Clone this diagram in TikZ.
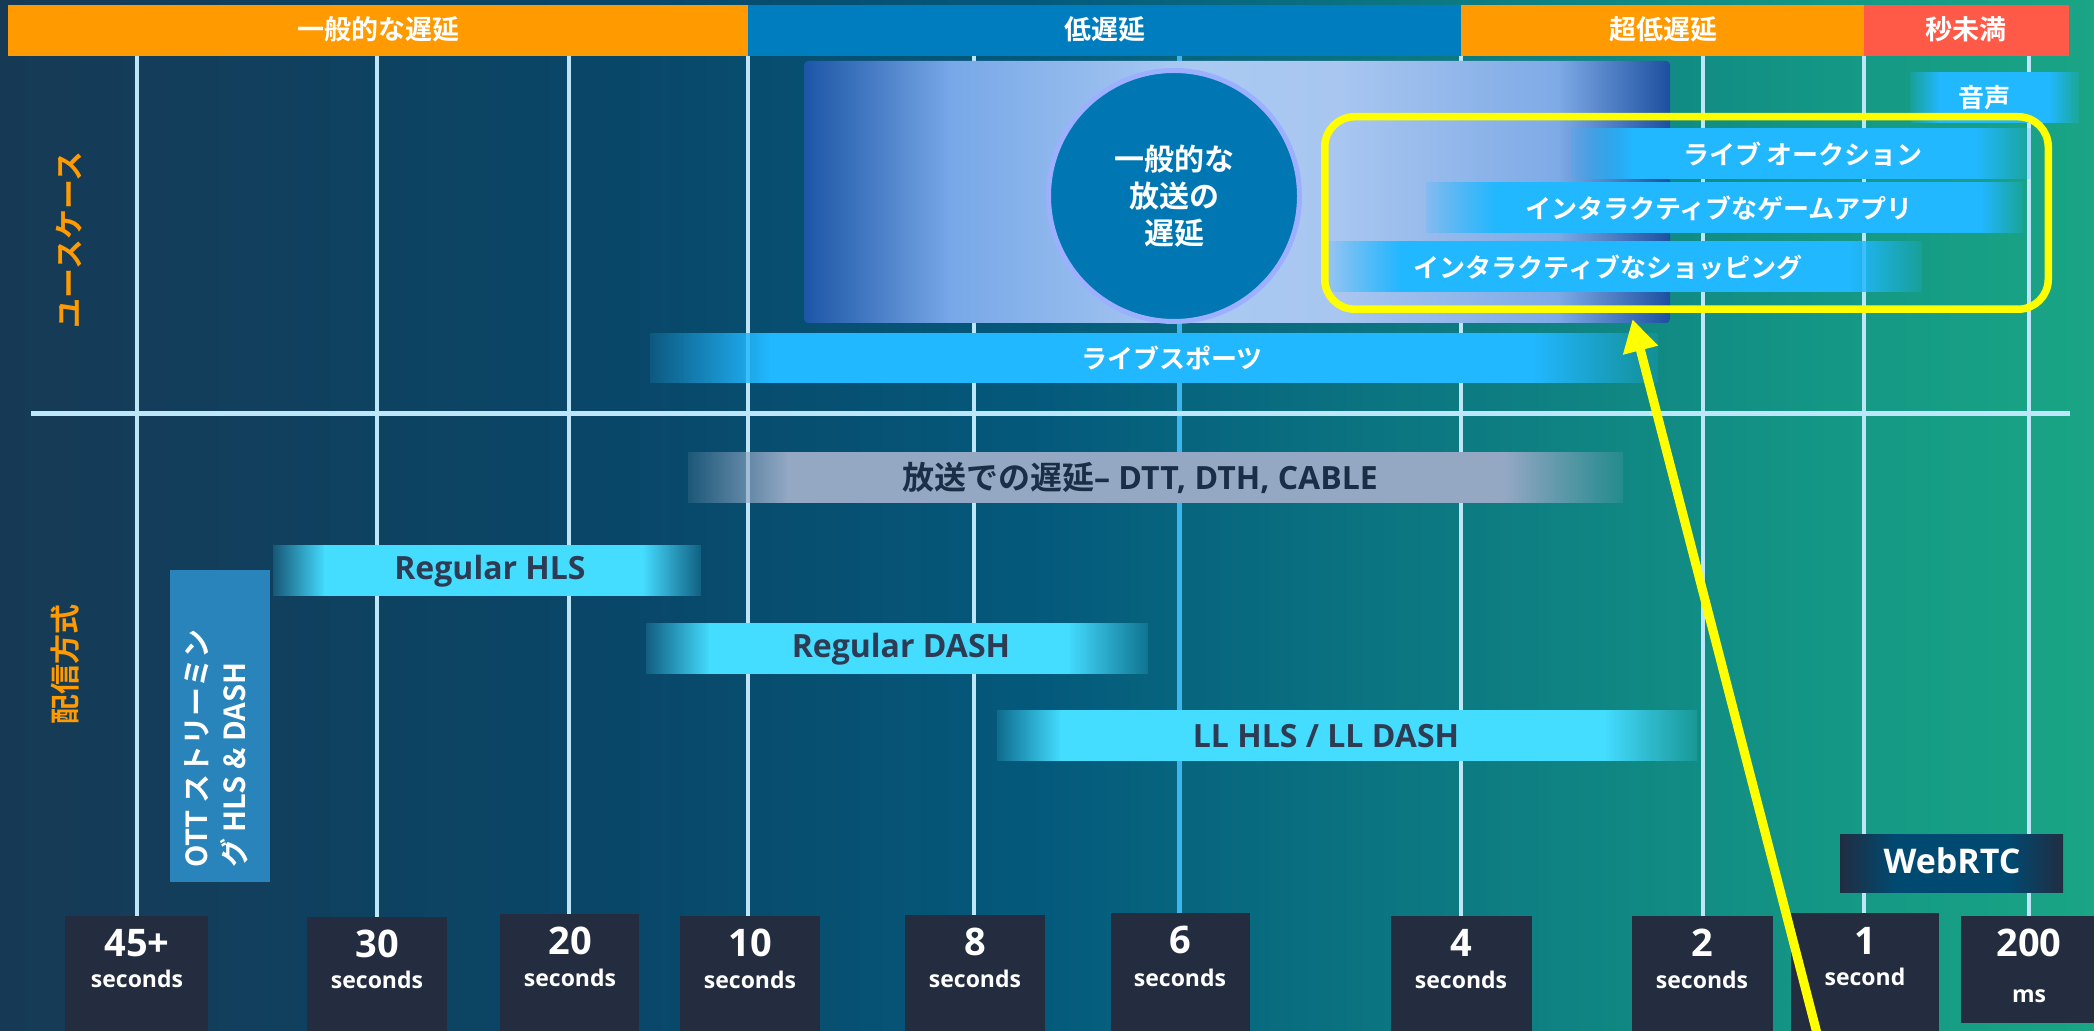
\documentclass[tikz,border=0pt]{standalone}
\usepackage{fontspec}
\setmainfont{Open Sans}
\newfontfamily\jp{Noto Sans CJK JP}[BoldFont={Noto Sans CJK JP Bold}]
\usetikzlibrary{positioning, arrows.meta, fadings, shapes}

\definecolor{bgA}{HTML}{163A55}
\definecolor{bgB}{HTML}{094769}
\definecolor{bgC}{HTML}{045A7C}
\definecolor{bgD}{HTML}{0D7B82}
\definecolor{bgE}{HTML}{149885}
\definecolor{bgF}{HTML}{1AA585}
\definecolor{bandorange}{HTML}{FF9A00}
\definecolor{bandblue}{HTML}{007DBE}
\definecolor{bandred}{HTML}{FF5A47}
\definecolor{gridcol}{HTML}{BDE6F8}
\definecolor{gridblue}{HTML}{3DB6F0}
\definecolor{circfill}{HTML}{0076B3}
\definecolor{circring}{HTML}{9DB0FF}
\definecolor{usecase}{HTML}{22B8FF}
\definecolor{bcastbar}{HTML}{94A8C4}
\definecolor{cyanbar}{HTML}{44DCFF}
\definecolor{methodtext}{HTML}{2E3B52}
\definecolor{bcasttext}{HTML}{1A2E47}
\definecolor{ottcol}{HTML}{2884BA}
\definecolor{tickcol}{HTML}{232D3F}
\definecolor{hilite}{HTML}{FFFF00}
\definecolor{bcA}{HTML}{1C56A6}
\definecolor{bcB}{HTML}{78A8E8}
\definecolor{bcC}{HTML}{AACAF2}
\definecolor{bcD}{HTML}{A8C6F0}
\definecolor{bcE}{HTML}{7EAAE6}
\definecolor{bcF}{HTML}{1C4F9F}
\definecolor{rtcA}{HTML}{212D42}
\definecolor{rtcB}{HTML}{004A72}

\pgfdeclarehorizontalshading{bgshade}{100bp}{color(0bp)=(bgA); color(25bp)=(bgA); color(40bp)=(bgB); color(50bp)=(bgC); color(60bp)=(bgD); color(69bp)=(bgE); color(75bp)=(bgF); color(100bp)=(bgF)}
\pgfdeclarehorizontalshading{bcast}{100bp}{color(0bp)=(bcA); color(25bp)=(bcA); color(33.5bp)=(bcB); color(47.5bp)=(bcC); color(56bp)=(bcD); color(68.5bp)=(bcE); color(75bp)=(bcF); color(100bp)=(bcF)}
\pgfdeclarehorizontalshading{rtcshade}{100bp}{color(0bp)=(rtcA); color(25bp)=(rtcA); color(37.5bp)=(rtcB); color(62.5bp)=(rtcB); color(75bp)=(rtcA); color(100bp)=(rtcA)}

\tikzfading[name=fadein, left color=transparent!85, right color=transparent!0]
\tikzfading[name=fadeout, left color=transparent!0, right color=transparent!85]

% bar with soft ends: colour, x1, x2, y1, y2, left fade, right fade
\newcommand\fadebar[7]{%
  \fill[#1] ({#2+#6-1},#4) rectangle ({#3-#7+1},#5);
  \fill[#1, path fading=fadein] (#2,#4) rectangle ({#2+#6},#5);
  \fill[#1, path fading=fadeout] ({#3-#7},#4) rectangle (#3,#5);
}

\begin{document}
\begin{tikzpicture}[x=0.5pt, y=-0.5pt,
  band/.style={text=white, inner sep=0, font=\jp\bfseries\fontsize{13.5}{16}\selectfont},
  grid/.style={draw=gridcol, line width=1.75pt},
  ucase/.style={text=white, inner sep=0, font=\jp\bfseries\fontsize{13}{15}\selectfont},
  method/.style={text=methodtext, inner sep=0, font=\bfseries\fontsize{16}{19}\selectfont},
  sidelabel/.style={text=bandorange, rotate=90, inner sep=0, font=\jp\bfseries\fontsize{15}{18}\selectfont},
  tickbox/.style={fill=tickcol},
  ticknum/.style={text=white, inner sep=0, font=\bfseries\fontsize{19}{22}\selectfont},
  tickunit/.style={text=white, inner sep=0, font=\bfseries\fontsize{11.5}{14}\selectfont}
]

\useasboundingbox (0,0) rectangle (2094,1031);
\clip (0,0) rectangle (2094,1031);

% Background
\shade[shading=bgshade] (0,0) rectangle (2094,1031);

% Latency bands
\fill[bandorange] (8,5) rectangle (748,56);
\fill[bandblue] (748,5) rectangle (1461,56);
\fill[bandorange] (1461,5) rectangle (1864,56);
\fill[bandred] (1864,5) rectangle (2069,56);
\node[band] (general) at (378,29) {一般的な遅延};
\node[band] (low) at (1105,29) {低遅延};
\node[band] (ultralow) at (1663,29) {超低遅延};
\node[band] (subsec) at (1966,29) {秒未満};

% Grid
\draw[grid] (137,56) -- (137,920);
\draw[grid] (377,56) -- (377,920);
\draw[grid] (569,56) -- (569,920);
\draw[grid] (748,56) -- (748,920);
\draw[grid] (974,56) -- (974,920);
\draw[grid, draw=gridblue, line width=2.5pt] (1179,56) -- (1179,920);
\draw[grid] (1461,56) -- (1461,920);
\draw[grid] (1703,56) -- (1703,920);
\draw[grid] (1864,56) -- (1864,920);
\draw[grid] (2029,56) -- (2029,920);
\draw[grid, line width=2.5pt] (31,414) -- (2070,414);

% Side labels
\node[sidelabel] (usecases) at (69,240) {ユースケース};
\node[sidelabel] (methods) at (65,665) {配信方式};

% Typical broadcast latency
\shade[shading=bcast, rounded corners=2pt] (804,61) rectangle (1670,323);
\node[circle, fill=circfill, draw=circring, line width=2.5pt, minimum size=125.5pt, inner sep=0,
  align=center, text=white, font=\jp\bfseries\fontsize{15}{18.5}\selectfont] (typical) at (1174,196) {一般的な\\放送の\\遅延};

% Use cases
\fadebar{usecase}{1910}{2079}{72}{123}{30}{30}
\node[ucase] (voice) at (1984,98) {音声};
\fadebar{usecase}{1571}{2031}{128}{179}{62}{55}
\node[ucase] (auction) at (1803,154) {ライブ オークション};
\fadebar{usecase}{1426}{2023}{182}{233}{70}{42}
\node[ucase] (gameapp) at (1719,208) {インタラクティブなゲームアプリ};
\fadebar{usecase}{1329}{1922}{241}{292}{72}{72}
\node[ucase] (shopping) at (1608,267) {インタラクティブなショッピング};
\fadebar{usecase}{650}{1658}{333}{383}{120}{125}
\node[ucase] (sports) at (1172,358) {ライブスポーツ};

\node[draw=hilite, line width=3.75pt, rounded corners=15pt, minimum width=361.75pt, minimum height=96.25pt,
  inner sep=0, outer sep=0] (focus) at (1686.5,213) {};

% Delivery methods
\fadebar{bcastbar}{688}{1623}{452}{503}{100}{118}
\node[method, text=bcasttext] (bcastnet) at (1140,478) {{\jp 放送での遅延}– DTT, DTH, CABLE};
\fadebar{cyanbar}{273}{701}{545}{596}{52}{58}
\node[method] (hls) at (490,571) {Regular HLS};
\fadebar{cyanbar}{646}{1148}{623}{674}{64}{80}
\node[method] (dash) at (901,649) {Regular DASH};
\fadebar{cyanbar}{997}{1697}{710}{761}{64}{92}
\node[method] (lldash) at (1326,736) {LL HLS / LL DASH};

\fill[ottcol] (170,570) rectangle (270,882);
\node[rotate=90, anchor=west, align=left, inner sep=0, text=white,
  font=\jp\bfseries\fontsize{14.5}{19}\selectfont] (ott) at (216,868) {OTT ストリーミン\\グ HLS \& DASH};

\shade[shading=rtcshade] (1840,834) rectangle (2063,892);
\node[text=white, inner sep=0, font=\bfseries\fontsize{17}{20}\selectfont] (webrtc) at (1952,861) {WebRTC};

% Latency ticks
\fill[tickbox] (65,916) rectangle (208,1031);
\node[ticknum] (n45) at (137,943) {45+};
\node[tickunit] (u45) at (137,979) {seconds};
\fill[tickbox] (307,917) rectangle (447,1031);
\node[ticknum] (n30) at (377,944) {30};
\node[tickunit] (u30) at (377,980) {seconds};
\fill[tickbox] (500,914) rectangle (639,1031);
\node[ticknum] (n20) at (570,941) {20};
\node[tickunit] (u20) at (570,978) {seconds};
\fill[tickbox] (680,916) rectangle (820,1031);
\node[ticknum] (n10) at (750,943) {10};
\node[tickunit] (u10) at (750,980) {seconds};
\fill[tickbox] (905,915) rectangle (1045,1031);
\node[ticknum] (n8) at (975,942) {8};
\node[tickunit] (u8) at (975,979) {seconds};
\fill[tickbox] (1111,913) rectangle (1250,1031);
\node[ticknum] (n6) at (1180,940) {6};
\node[tickunit] (u6) at (1180,978) {seconds};
\fill[tickbox] (1391,916) rectangle (1532,1031);
\node[ticknum] (n4) at (1461,943) {4};
\node[tickunit] (u4) at (1461,980) {seconds};
\fill[tickbox] (1632,916) rectangle (1773,1031);
\node[ticknum] (n2) at (1702,943) {2};
\node[tickunit] (u2) at (1702,980) {seconds};
\fill[tickbox] (1791,913) rectangle (1939,1031);
\node[ticknum] (n1) at (1865,941) {1};
\node[tickunit] (u1) at (1865,977) {second};
\fill[tickbox] (1961,916) rectangle (2099,1023);
\node[ticknum] (n200) at (2029,943) {200};
\node[tickunit] (ums) at (2029,996) {ms};

% Pointer
\coordinate (arrowfoot) at (1820,1045);
\coordinate (arrowtip) at ([xshift=-27pt, yshift=-5pt]focus.south);
\draw[hilite, line width=4.5pt, -{Triangle[width=17pt, length=16pt]}] (arrowfoot) -- (arrowtip);

\end{tikzpicture}
\end{document}
